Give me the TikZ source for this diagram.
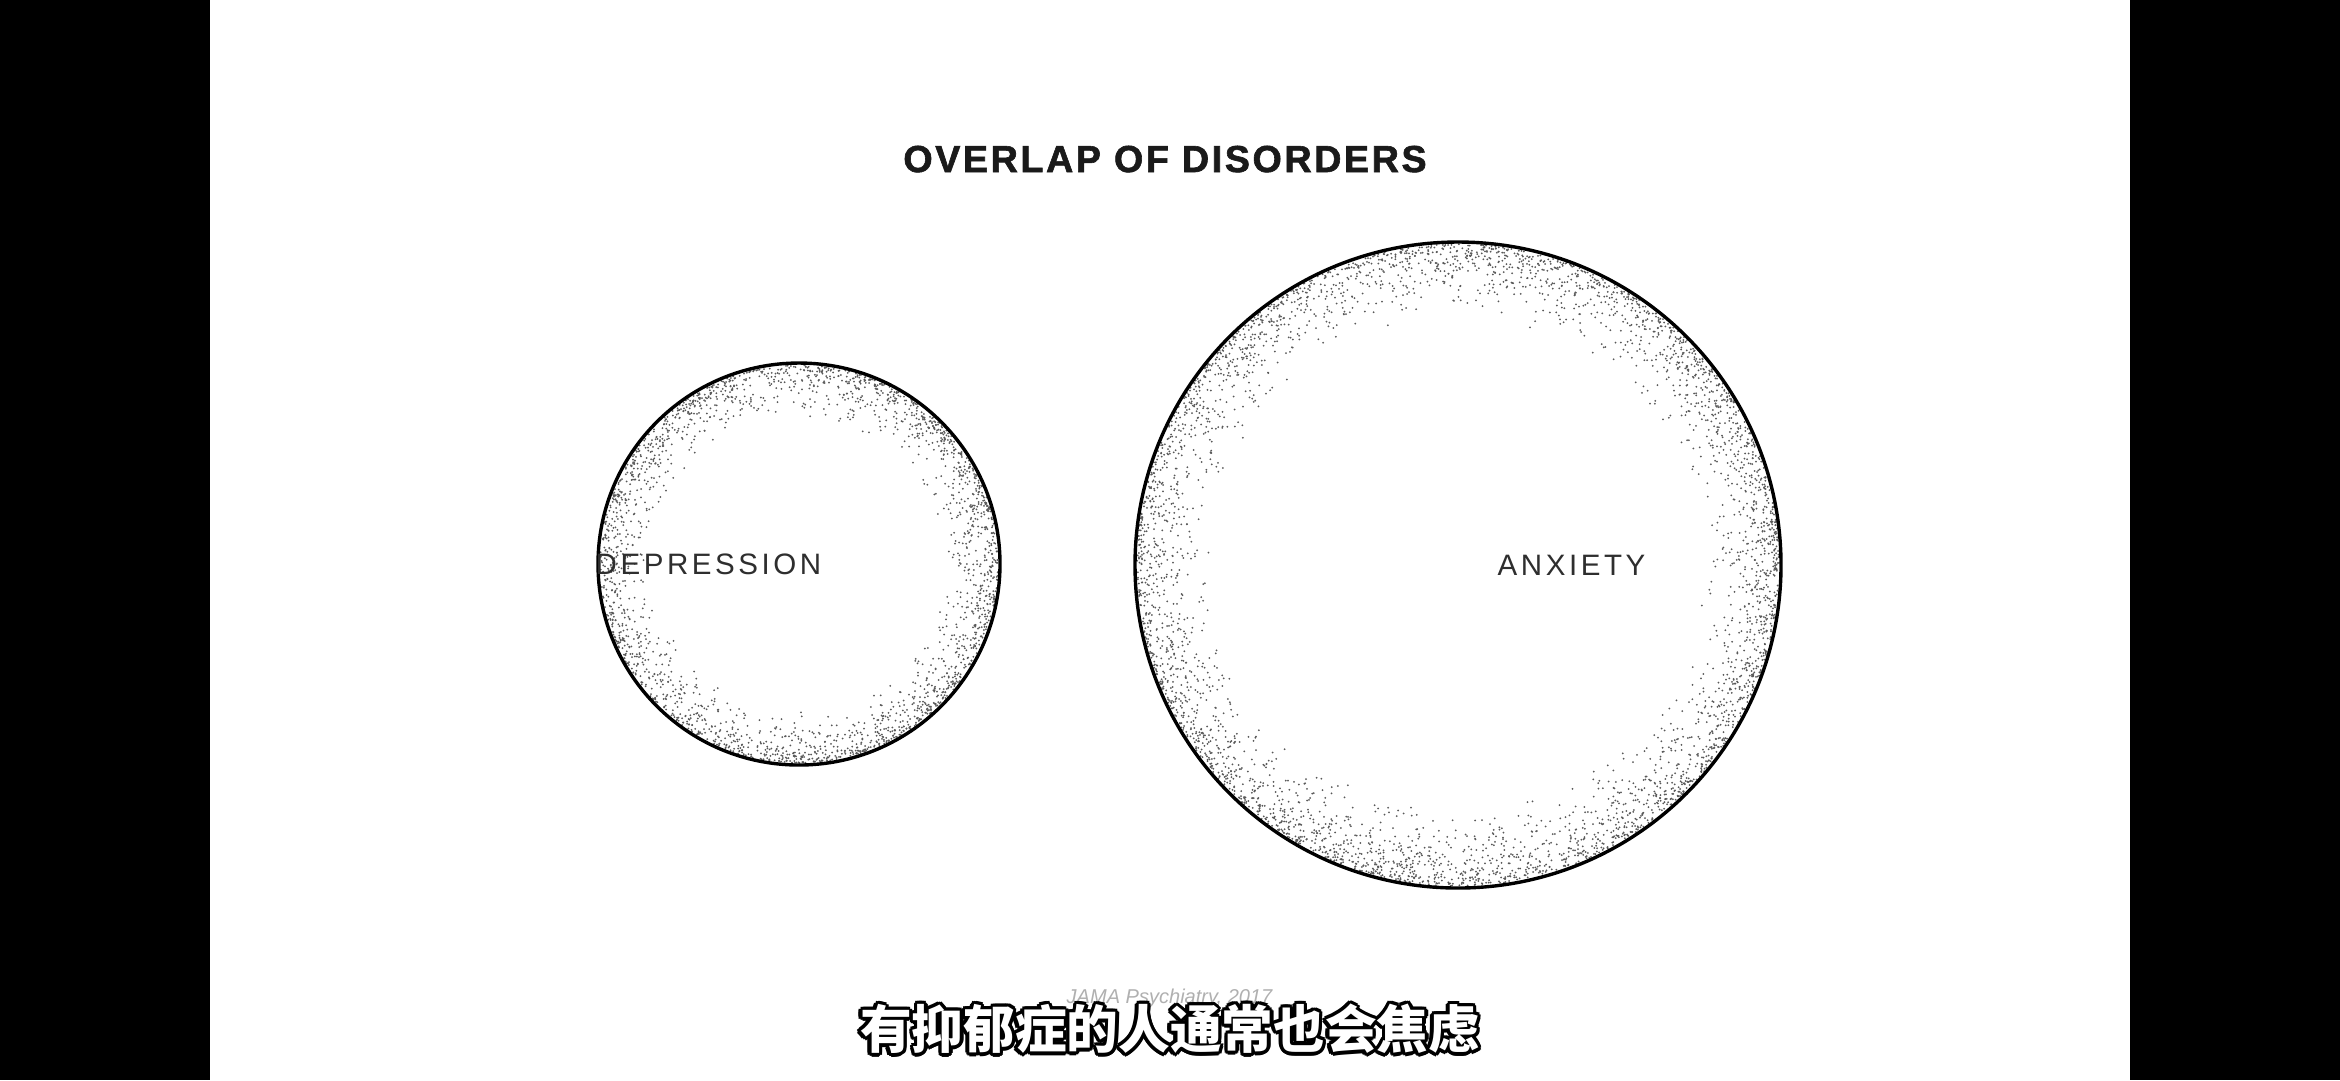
\documentclass[tikz,border=0pt]{standalone}
\usepackage{fontspec}
\setmainfont{Liberation Sans}
\newfontfamily\titlefont[LetterSpace=7,FakeBold=1.6]{Liberation Sans Bold}
\newfontfamily\labelfont[LetterSpace=12]{Liberation Sans}
\newfontfamily\cjk{Noto Sans CJK SC}
\definecolor{ink}{HTML}{1A1A1A}
\definecolor{labelc}{HTML}{2E2E2E}
\definecolor{srcc}{HTML}{B0B0B0}
\pgfdeclareradialshading{ring}{\pgfpoint{0bp}{0bp}}{color(0bp)=(white); color(35bp)=(white); color(45bp)=(black!14); color(50bp)=(black!30); color(100bp)=(black!30)}
\tikzset{
  disc/.style={draw=black, line width=0.34mm},
  title/.style={font=\titlefont\fontsize{10.7pt}{12pt}\selectfont, text=ink, inner sep=0pt},
  lab/.style={font=\labelfont\fontsize{8.4pt}{10pt}\selectfont, text=labelc, inner sep=0pt},
  src/.style={font=\itshape\fontsize{5.7pt}{7pt}\selectfont, text=srcc, inner sep=0pt},
  sub/.style={font=\cjk\bfseries\fontsize{14.7pt}{16pt}\selectfont, inner sep=0pt},
  dotc/.style={fill=black!65}
}
\begin{document}
\begin{tikzpicture}[x=0.1mm,y=-0.1mm]
\useasboundingbox (0,0) rectangle (2340,1080);
\fill[black] (0,0) rectangle (2340,1080);
\fill[white] (210,0) rectangle (2130,1080);

% title
\node[title, anchor=base] (title) at (1165,172) {OVERLAP OF DISORDERS};

% circles
\coordinate (cd) at (799,564);
\coordinate (ca) at (1458,565);
\shade[shading=ring] (cd) circle[radius=20.1mm];
\shade[shading=ring] (ca) circle[radius=32.3mm];
\pgfmathsetseed{17}
\foreach \i in {1,...,2400}{
  \pgfmathsetmacro\a{360*rnd}
  \pgfmathsetmacro\d{199*(1-0.27*rnd*rnd)}
  \fill[dotc] ([shift={(cd)}]\a:\d) circle[radius=0.1mm];
}
\foreach \i in {1,...,4200}{
  \pgfmathsetmacro\a{360*rnd}
  \pgfmathsetmacro\d{321*(1-0.24*rnd*rnd)}
  \fill[dotc] ([shift={(ca)}]\a:\d) circle[radius=0.1mm];
}
\node[disc, circle, minimum size=40.2mm, inner sep=0pt] (dep) at (cd) {};
\node[disc, circle, minimum size=64.6mm, inner sep=0pt] (anx) at (ca) {};

\node[lab, anchor=base west] (deplab) at (595,574) {DEPRESSION};
\node[lab, anchor=base west] (anxlab) at (1497,575) {ANXIETY};

% source
\node[src, anchor=base west] (source) at (1066,1003) {JAMA Psychiatry, 2017};

% subtitle with outline
\foreach \t in {0,30,...,330}{
  \node[sub, text=black] at ([shift={(1170,1029)}]\t:3.6) {有抑郁症的人通常也会焦虑};
}
\node[sub, text=white] (subtitle) at (1170,1029) {有抑郁症的人通常也会焦虑};
\end{tikzpicture}
\end{document}
